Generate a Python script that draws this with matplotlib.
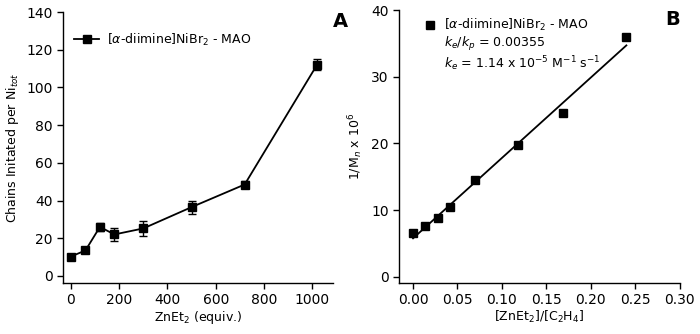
import numpy as np
import matplotlib
matplotlib.use('Agg')
import matplotlib.pyplot as plt

plt.rcParams['font.family'] = ['DejaVu Sans']
plt.rcParams['mathtext.fontset'] = 'dejavusans'

# panel A: chains initiated vs ZnEt2 loading
zn_equiv = [0, 60, 120, 180, 300, 500, 720, 1020]
chains = [10.3, 13.5, 26.0, 22.0, 25.2, 36.5, 48.5, 112.0]
chains_err = [0.6, 1.0, 2.0, 3.5, 4.0, 3.5, 2.0, 3.0]

# panel B: 1/Mn vs [ZnEt2]/[C2H4]
ratio = [0.0, 0.014, 0.028, 0.042, 0.070, 0.118, 0.169, 0.240]
inv_mn = [6.6, 7.6, 8.9, 10.5, 14.5, 19.7, 24.5, 36.0]

series_label = r'[$\alpha$-diimine]NiBr$_2$ - MAO'

fig = plt.figure(figsize=(7, 3.34), dpi=100)
axA = fig.add_axes([0.09, 0.153, 0.386, 0.811])
axB = fig.add_axes([0.570, 0.153, 0.401, 0.817])

axA.errorbar(zn_equiv, chains, yerr=chains_err, fmt='none', ecolor='black',
             capsize=3, elinewidth=1)
axA.plot(zn_equiv, chains, color='black', marker='s', markersize=6, lw=1.3,
         label=series_label)
axA.set_xlim(-33, 1087)
axA.set_ylim(-3.7, 140)
axA.set_xticks([0, 200, 400, 600, 800, 1000])
axA.set_yticks(range(0, 141, 20))
axA.set_xlabel(r'ZnEt$_2$ (equiv.)', fontsize=9, labelpad=1)
axA.set_ylabel(r'Chains Initated per Ni$_{tot}$', fontsize=9)
axA.legend(loc='upper left', bbox_to_anchor=(0.0, 0.97), frameon=False, fontsize=9,
           handlelength=2.0, handletextpad=0.6)
axA.text(1.0, 1.0, 'A', transform=axA.transAxes, fontsize=14, fontweight='bold',
         ha='left', va='top')

axB.plot(ratio, inv_mn, 's', color='black', markersize=6)
slope, intercept = np.polyfit(ratio, inv_mn, 1)
fit_x = np.array([ratio[0], ratio[-1]])
axB.plot(fit_x, slope * fit_x + intercept, color='black', lw=1.3)
axB.set_xlim(-0.0158, 0.30)
axB.set_ylim(-0.9, 40)
axB.set_xticks(np.arange(0, 0.31, 0.05))
axB.set_xticklabels(['%.2f' % v for v in np.arange(0, 0.31, 0.05)])
axB.set_yticks(range(0, 41, 10))
axB.set_xlabel(r'[ZnEt$_2$]/[C$_2$H$_4$]', fontsize=9, labelpad=1)
axB.set_ylabel(r'1/M$_n$ x 10$^6$', fontsize=9)

# legend-style annotation block
axB.plot([0.11], [0.945], 's', color='black', markersize=6, transform=axB.transAxes,
         clip_on=False)
axB.text(0.16, 0.945, series_label, transform=axB.transAxes, fontsize=9, va='center')
axB.text(0.16, 0.875, r'$k_e/k_p$ = 0.00355', transform=axB.transAxes, fontsize=9,
         va='center')
axB.text(0.16, 0.805, r'$k_e$ = 1.14 x 10$^{-5}$ M$^{-1}$ s$^{-1}$', transform=axB.transAxes,
         fontsize=9, va='center')
axB.text(1.0, 1.0, 'B', transform=axB.transAxes, fontsize=14, fontweight='bold',
         ha='right', va='top')

for ax in (axA, axB):
    ax.spines['top'].set_visible(False)
    ax.spines['right'].set_visible(False)
    ax.tick_params(direction='out', length=4, width=1, labelsize=10)
    for s in ('left', 'bottom'):
        ax.spines[s].set_linewidth(1)

fig.savefig('out.png', dpi=100)
